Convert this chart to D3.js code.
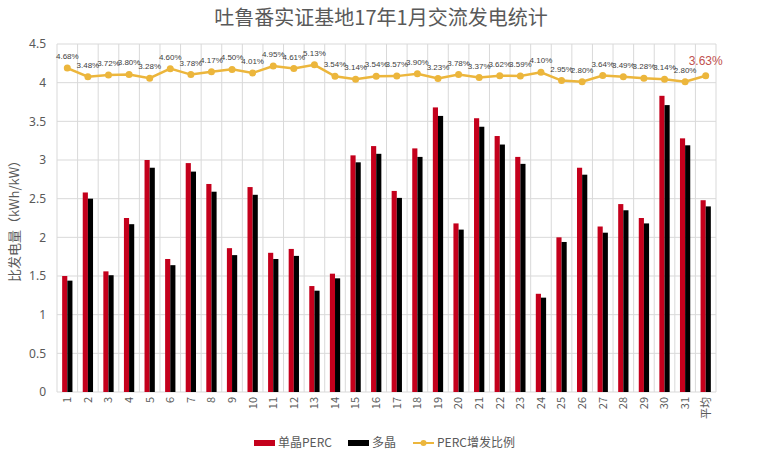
<!DOCTYPE html>
<html>
<head>
<meta charset="utf-8">
<script src="https://cdn.jsdelivr.net/npm/d3@7"></script>
<style>
  html, body { margin: 0; padding: 0; background: #fff; }
  text { font-family: "Noto Sans CJK SC", "Noto Sans", sans-serif; }
</style>
</head>
<body>
<svg id="chart" width="762" height="456"></svg>
<script>
const categories = ["1","2","3","4","5","6","7","8","9","10","11","12","13","14","15","16","17","18","19","20","21","22","23","24","25","26","27","28","29","30","31","平均"];
const percValues = [1.50,2.58,1.56,2.25,3.00,1.72,2.96,2.69,1.86,2.65,1.80,1.85,1.37,1.53,3.06,3.18,2.60,3.15,3.68,2.18,3.54,3.31,3.04,1.27,2.00,2.90,2.14,2.43,2.25,3.83,3.28,2.48];
const multiValues = [1.44,2.50,1.51,2.17,2.90,1.64,2.85,2.59,1.77,2.55,1.72,1.76,1.31,1.47,2.97,3.08,2.51,3.04,3.57,2.10,3.43,3.20,2.95,1.22,1.94,2.81,2.06,2.35,2.18,3.71,3.19,2.40];
const gainPct = [4.68,3.48,3.72,3.80,3.28,4.60,3.78,4.17,4.50,4.01,4.95,4.61,5.13,3.54,3.14,3.54,3.57,3.90,3.23,3.78,3.37,3.62,3.59,4.10,2.95,2.80,3.64,3.49,3.28,3.14,2.80,3.63];
const yTicks = [0,0.5,1,1.5,2,2.5,3,3.5,4,4.5];
const seriesNames = ["单晶PERC","多晶","PERC增发比例"];
const title = "吐鲁番实证基地17年1月交流发电统计";
const yTitle = "比发电量（kWh/kW）";

const colors = { perc: "#C4001C", multi: "#000000", line: "#ECB63C", grid: "#D9D9D9", text: "#595959" };

const svg = d3.select("#chart");
const m = { left: 57, right: 762 - 716, top: 44, bottom: 456 - 392 };
const W = 762, H = 456;
const iw = W - m.left - m.right, ih = H - m.top - m.bottom;
const g = svg.append("g").attr("transform", `translate(${m.left},${m.top})`);

const x = d3.scaleBand().domain(categories).range([0, iw]).padding(0);
const y = d3.scaleLinear().domain([0, 4.5]).range([ih, 0]);
const y2 = d3.scaleLinear().domain([-40, 8]).range([ih, 0]);
const xs = d3.scaleBand().domain(["perc","multi"]).range([x.bandwidth()*0.25, x.bandwidth()*0.75]);

// horizontal gridlines
g.append("g").selectAll("line").data(yTicks).join("line")
  .attr("x1", 0).attr("x2", iw)
  .attr("y1", d => y(d)).attr("y2", d => y(d))
  .attr("stroke", colors.grid).attr("stroke-width", 1);
// vertical gridlines
const vb = categories.map(c => x(c)).concat([iw]);
g.append("g").selectAll("line").data(vb).join("line")
  .attr("x1", d => d).attr("x2", d => d)
  .attr("y1", 0).attr("y2", ih)
  .attr("stroke", colors.grid).attr("stroke-width", 1);

// y axis labels
const yAxis = g.append("g").call(d3.axisLeft(y).tickValues(yTicks).tickSize(0).tickPadding(11).tickFormat(d => d));
yAxis.select(".domain").remove();
yAxis.selectAll("text").attr("fill", colors.text).style("font-size", "12px").style("font-family", "'Noto Sans', sans-serif");

// x axis labels
const xAxis = g.append("g").attr("transform", `translate(0,${ih})`)
  .call(d3.axisBottom(x).tickSize(0).tickPadding(0));
xAxis.select(".domain").remove();
xAxis.selectAll("text")
  .attr("fill", colors.text).style("font-size", "11px")
  .attr("transform", "rotate(-90)")
  .attr("text-anchor", "end")
  .attr("x", -5).attr("y", 0).attr("dy", "0.35em");

// bars
const groups = g.append("g").selectAll("g").data(categories).join("g")
  .attr("transform", d => `translate(${x(d)},0)`);
groups.append("rect")
  .attr("x", xs("perc")).attr("width", xs.bandwidth())
  .attr("y", (d,i) => y(percValues[i])).attr("height", (d,i) => ih - y(percValues[i]))
  .attr("fill", colors.perc);
groups.append("rect")
  .attr("x", xs("multi")).attr("width", xs.bandwidth())
  .attr("y", (d,i) => y(multiValues[i])).attr("height", (d,i) => ih - y(multiValues[i]))
  .attr("fill", colors.multi);

// line
const cx = (d) => x(d) + x.bandwidth()/2;
const line = d3.line().x((d,i) => cx(categories[i])).y(d => y2(d));
g.append("path").datum(gainPct).attr("d", line)
  .attr("fill", "none").attr("stroke", colors.line).attr("stroke-width", 2.5);
g.append("g").selectAll("circle").data(gainPct).join("circle")
  .attr("cx", (d,i) => cx(categories[i])).attr("cy", d => y2(d)).attr("r", 3.5)
  .attr("fill", colors.line);
g.append("g").selectAll("text").data(gainPct).join("text")
  .attr("x", (d,i) => cx(categories[i]))
  .attr("y", (d,i) => y2(d) - (i === gainPct.length-1 ? 11 : 9))
  .attr("text-anchor", "middle")
  .attr("fill", (d,i) => i === gainPct.length-1 ? "#C0504D" : "#404040")
  .style("font-size", (d,i) => i === gainPct.length-1 ? "12px" : "8px")
  .style("font-family", "'Liberation Sans', sans-serif")
  .text(d => d.toFixed(2) + "%");

// title
svg.append("text").attr("x", 381).attr("y", 25).attr("text-anchor", "middle")
  .attr("fill", colors.text).style("font-size", "20px").text(title);

// y title
svg.append("text").attr("transform", `translate(19,${m.top + ih/2}) rotate(-90)`)
  .attr("text-anchor", "middle").attr("fill", colors.text).style("font-size", "13px").text(yTitle);

// legend
const legend = svg.append("g").attr("transform", "translate(0,443)");
const items = [
  { name: seriesNames[0], type: "rect", color: colors.perc, x: 254 },
  { name: seriesNames[1], type: "rect", color: colors.multi, x: 348 },
  { name: seriesNames[2], type: "line", color: colors.line, x: 413 }
];
items.forEach(it => {
  const li = legend.append("g").attr("transform", `translate(${it.x},0)`);
  if (it.type === "rect") {
    li.append("rect").attr("x", 0).attr("y", -3).attr("width", 21).attr("height", 6).attr("fill", it.color);
  } else {
    li.append("line").attr("x1", 0).attr("x2", 21).attr("y1", 0).attr("y2", 0).attr("stroke", it.color).attr("stroke-width", 2);
    li.append("circle").attr("cx", 10.5).attr("cy", 0).attr("r", 3).attr("fill", it.color);
  }
  li.append("text").attr("x", 24).attr("y", 0).attr("dy", "0.35em")
    .attr("fill", colors.text).style("font-size", "12px").text(it.name);
});
</script>
</body>
</html>
